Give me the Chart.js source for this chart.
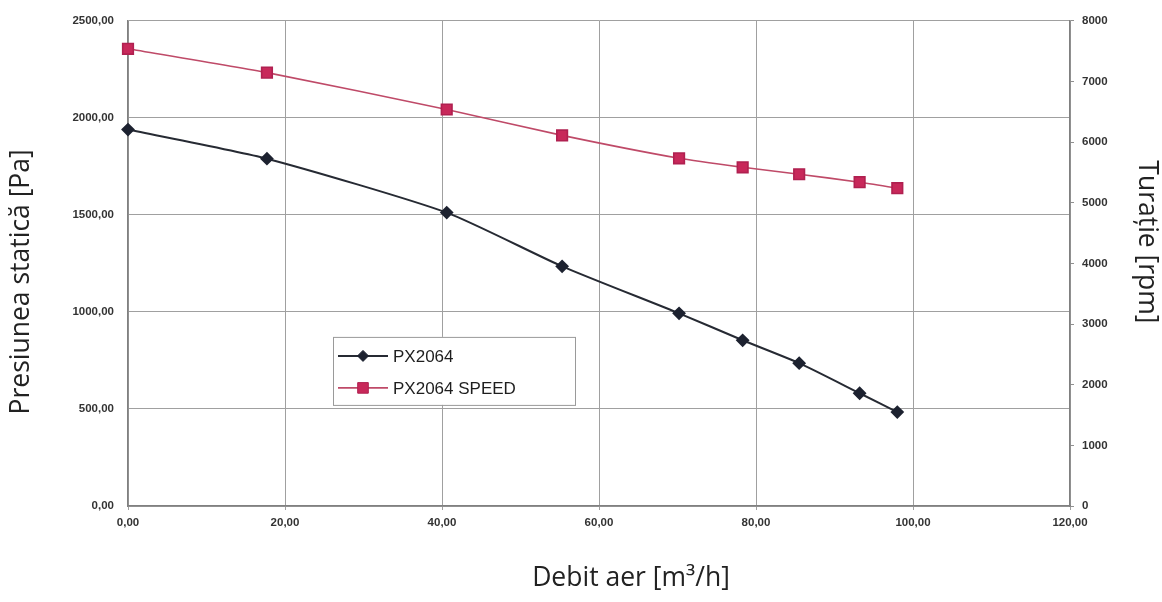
<!DOCTYPE html>
<html>
<head>
<meta charset="utf-8">
<script src="https://cdn.jsdelivr.net/npm/chart.js@4/dist/chart.umd.min.js"></script>
<style>
  html, body { margin: 0; padding: 0; background: #fff; }
  #wrap { width: 1162px; height: 602px; }
</style>
</head>
<body>
<div id="wrap"><canvas id="fanChart" width="1162" height="602"></canvas></div>
<script>
// debit aer [m3/h]
const flowX = [0, 17.7, 40.6, 55.3, 70.2, 78.3, 85.5, 93.2, 98.0];
// presiune statica [Pa]
const pressure = [1940, 1790, 1512, 1235, 993, 854, 736, 581, 484];
// turatie [rpm]
const speed = [7540, 7147, 6539, 6112, 5734, 5586, 5471, 5340, 5241];

const seriesNames = ['PX2064', 'PX2064 SPEED'];
const xTitle = 'Debit aer [m³/h]';
const yLeftTitle = 'Presiunea statică [Pa]';
const yRightTitle = 'Turație [rpm]';

function toPoints(xs, ys) {
    return xs.map(function(x, i) { return { x: x, y: ys[i] }; });
}

function commaFmt(v) {
    return Number(v).toFixed(2).replace('.', ',');
}

const tickFont = { family: 'Liberation Sans', size: 11.5, weight: 'bold' };

// titlurile axelor, puse ca in original (nu centrate exact pe axa)
const axisTitles = {
    id: 'axisTitles',
    afterDraw: function(chart) {
        const ctx = chart.ctx;
        const a = chart.chartArea;
        ctx.save();
        ctx.font = '26.5px "Open Sans"';
        ctx.fillStyle = '#222';
        ctx.textAlign = 'center';
        ctx.textBaseline = 'middle';
        ctx.fillText(xTitle, a.left + 503, a.bottom + 72);

        ctx.save();
        ctx.translate(21, a.top + 261);
        ctx.rotate(-Math.PI / 2);
        ctx.fillText(yLeftTitle, 0, 0);
        ctx.restore();

        ctx.save();
        ctx.translate(a.right + 77, a.top + 221);
        ctx.rotate(Math.PI / 2);
        ctx.fillText(yRightTitle, 0, 0);
        ctx.restore();
        ctx.restore();
    }
};

// legenda in interiorul graficului
const insideLegend = {
    id: 'insideLegend',
    afterDraw: function(chart) {
        const ctx = chart.ctx;
        const area = chart.chartArea;
        const left = area.left + 205;
        const top = area.top + 316;
        const w = 242, h = 68;
        ctx.save();
        ctx.fillStyle = '#fff';
        ctx.fillRect(left, top, w, h);
        ctx.strokeStyle = '#9a9a9a';
        ctx.lineWidth = 1;
        ctx.strokeRect(left + 0.5, top + 0.5, w, h);
        chart.data.datasets.forEach(function(ds, i) {
            const cy = top + 19 + i * 32;
            ctx.strokeStyle = ds.borderColor;
            ctx.lineWidth = ds.borderWidth;
            ctx.beginPath();
            ctx.moveTo(left + 5, cy);
            ctx.lineTo(left + 55, cy);
            ctx.stroke();
            ctx.fillStyle = ds.pointBackgroundColor;
            ctx.strokeStyle = ds.pointBorderColor;
            ctx.lineWidth = 1;
            Chart.helpers.drawPoint(ctx, {
                pointStyle: ds.pointStyle,
                radius: ds.pointRadius,
                borderWidth: 1
            }, left + 30, cy);
            ctx.fillStyle = '#1e1e1e';
            ctx.font = '17px "Liberation Sans"';
            ctx.textAlign = 'left';
            ctx.textBaseline = 'middle';
            ctx.fillText(ds.label, left + 60, cy + 1);
        });
        ctx.restore();
    }
};

const ctx = document.getElementById('fanChart').getContext('2d');
new Chart(ctx, {
    type: 'line',
    data: {
        datasets: [{
            label: seriesNames[0],
            data: toPoints(flowX, pressure),
            yAxisID: 'y',
            borderColor: '#262a33',
            borderWidth: 2,
            pointStyle: 'rectRot',
            pointRadius: 5.5,
            pointBackgroundColor: '#1d2230',
            pointBorderColor: '#1d2230',
            tension: 0.2,
            clip: false
        }, {
            label: seriesNames[1],
            data: toPoints(flowX, speed),
            yAxisID: 'y1',
            borderColor: '#bf4a68',
            borderWidth: 1.6,
            pointStyle: 'rect',
            pointRadius: 7.5,
            pointBackgroundColor: '#c8285a',
            pointBorderColor: '#b02050',
            tension: 0.2,
            clip: false
        }]
    },
    options: {
        responsive: false,
        animation: false,
        devicePixelRatio: 1,
        layout: { padding: { top: 20, left: 0, right: 0, bottom: 0 } },
        plugins: {
            legend: { display: false },
            tooltip: { enabled: false }
        },
        scales: {
            x: {
                type: 'linear',
                min: 0,
                max: 120,
                ticks: {
                    stepSize: 20,
                    font: tickFont,
                    color: '#333',
                    padding: 6,
                    maxRotation: 0,
                    callback: function(v) { return commaFmt(v); }
                },
                grid: { color: '#a0a0a0', tickLength: 4, lineWidth: 1 },
                border: { color: '#808080', width: 1.5 },
                afterFit: function(scale) { scale.height = 96; }
            },
            y: {
                position: 'left',
                min: 0,
                max: 2500,
                ticks: {
                    stepSize: 500,
                    font: tickFont,
                    color: '#333',
                    padding: 14,
                    callback: function(v) { return commaFmt(v); }
                },
                grid: { color: '#a0a0a0', drawTicks: false, lineWidth: 1 },
                border: { color: '#808080', width: 1.5 },
                afterFit: function(scale) { scale.width = 128; }
            },
            y1: {
                position: 'right',
                min: 0,
                max: 8000,
                ticks: {
                    stepSize: 1000,
                    font: tickFont,
                    color: '#333',
                    padding: 8,
                    callback: function(v) { return String(v); }
                },
                grid: { drawOnChartArea: false, color: '#909090', tickLength: 4 },
                border: { color: '#808080', width: 1.5 },
                afterFit: function(scale) { scale.width = 92; }
            }
        }
    },
    plugins: [insideLegend, axisTitles]
});
</script>
</body>
</html>
